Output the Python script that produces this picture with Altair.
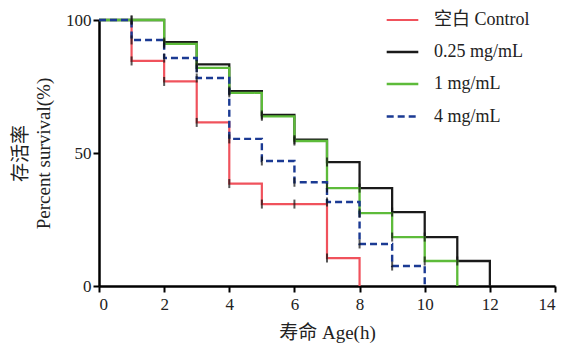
import altair as alt
import pandas as pd

times = list(range(0, 13))
series_names = ["空白 Control", "0.25 mg/mL", "1 mg/mL", "4 mg/mL"]
control = [100, 84.6, 76.9, 61.5, 38.5, 30.8, 30.8, 10.5, 0]
c025 = [100, 100, 91.7, 83.3, 73.3, 64.3, 55.0, 46.6, 36.8, 27.8, 18.4, 9.4, 0]
c1 = [100, 100, 91.0, 82.0, 72.6, 63.8, 54.5, 36.8, 27.4, 18.4, 9.4, 0]
c4 = [100, 92.5, 85.7, 78.2, 55.3, 47.0, 39.0, 31.6, 15.8, 7.5, 0]
colors = ["#F0525C", "#1a1a1a", "#5DBB3A", "#1B3A93"]
widths = [2.2, 2.4, 3.5, 2.6]
dashes = [[1, 0], [1, 0], [1, 0], [7, 4]]
draw_order = ["空白 Control", "1 mg/mL", "0.25 mg/mL", "4 mg/mL"]

rows = []
for name, vals in zip(series_names, [control, c025, c1, c4]):
    for t, v in zip(times, vals):
        rows.append({"series": name, "t": t, "v": v, "ord": draw_order.index(name)})
df = pd.DataFrame(rows)

font = "Liberation Serif, Noto Sans CJK SC"
yscale = alt.Scale(domain=[0, 100], nice=False)

x = alt.X("t:Q", scale=alt.Scale(domain=[0, 14], nice=False),
          axis=alt.Axis(values=list(range(0, 15, 2)), title="寿命 Age(h)", titlePadding=11))
y = alt.Y("v:Q", scale=yscale,
          axis=alt.Axis(values=[0, 50, 100], title=["存活率", "Percent survival(%)"],
                        titleLineHeight=23, titlePadding=12))

color = alt.Color("series:N", scale=alt.Scale(domain=series_names, range=colors),
                  legend=alt.Legend(title=None, orient="none", legendX=286, legendY=-17,
                                    symbolType="stroke", symbolSize=1000, symbolStrokeWidth=3,
                                    labelFont=font, labelFontSize=18, labelColor="#222",
                                    rowPadding=6, labelOffset=14))
dash = alt.StrokeDash("series:N", scale=alt.Scale(domain=series_names, range=dashes), legend=None)
sw = alt.StrokeWidth("series:N", scale=alt.Scale(domain=series_names, range=widths), legend=None)

lines = alt.Chart(df).mark_line(interpolate="step-after").encode(
    x=x, y=y, color=color, strokeDash=dash, strokeWidth=sw,
    detail="series:N", order=alt.Order("ord:Q"))

ticks = alt.Chart(df).transform_filter("datum.t >= 1 && datum.v > 0").mark_tick(
    orient="vertical", size=9, thickness=2, color="#111").encode(x="t:Q", y="v:Q")

chart = alt.layer(lines, ticks).properties(
    width=456, height=266,
    padding={"left": 91, "top": 12, "right": 4, "bottom": 58},
    autosize=alt.AutoSizeParams(type="none"),
).configure_view(stroke=None).configure_axis(
    grid=False, domainColor="black", domainWidth=2.5, tickColor="black", tickWidth=2,
    tickSize=6, labelFont=font, labelFontSize=17, labelColor="#222", labelPadding=2,
    titleFont=font, titleFontSize=19, titleFontWeight="normal", titleColor="#222",
).configure_axisX(labelPadding=4)

chart.save("out.html", embed_options={"renderer": "svg", "actions": False})
